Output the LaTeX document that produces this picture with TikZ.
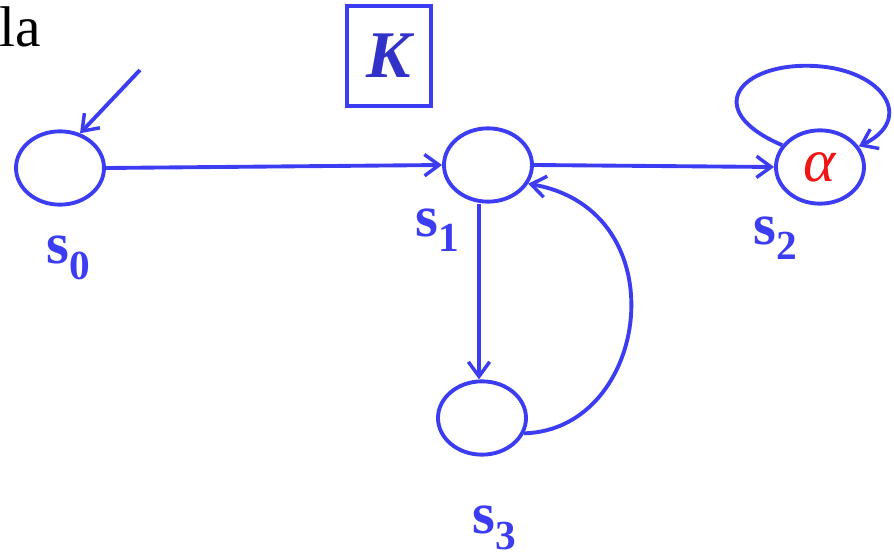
\documentclass[tikz,border=0pt]{standalone}
\usepackage{fontspec}
\setmainfont{Liberation Serif}
\usetikzlibrary{shapes.geometric,arrows.meta}
\definecolor{lineblue}{RGB}{60,60,242}
\definecolor{kblue}{RGB}{50,50,200}
\definecolor{alphared}{RGB}{240,20,20}
\tikzset{
  state/.style={ellipse,draw=lineblue,line width=2.9pt,minimum width=66pt,minimum height=55pt,inner sep=0pt},
  edge/.style={draw=lineblue,line width=2.9pt,-{Straight Barb[length=11pt,width=16pt,line width=2.6pt]}},
  slabel/.style={text=lineblue,inner sep=0pt,font=\fontsize{44}{50}\selectfont\bfseries}
}
\newcommand{\sub}[1]{\raisebox{-0.26em}{\fontsize{31}{34}\selectfont\bfseries #1}}
\begin{document}
\begin{tikzpicture}[x=0.75pt,y=-0.75pt]
\useasboundingbox (0,0) rectangle (894,560);
% partial text top left
\node[anchor=base west,inner sep=0pt,font=\fontsize{43}{48}\selectfont] (frag) at (-1,47) {la};
% K box
\node[draw=lineblue,line width=2.6pt,minimum width=63pt,minimum height=75pt,inner sep=0pt,
      text=kblue,font=\fontsize{50}{56}\selectfont\bfseries\itshape] (K) at (389,56) {K};
% states
\node[state] (s0) at (60,168) {};
\node[state] (s1) at (488,165) {};
\node[state] (s2) at (820,167) {\textcolor{alphared}{\fontsize{46}{48}\selectfont\itshape α}};
\node[state] (s3) at (482,418) {};
% labels
\node[slabel] (l0) at (68,258) {s\sub{0}};
\node[slabel] (l1) at (437,230) {s\sub{1}};
\node[slabel] (l2) at (775,238) {s\sub{2}};
\node[slabel] (l3) at (494,528) {s\sub{3}};
% initial arrow
\coordinate (init) at (140,70);
\draw[edge] (init) -- (s0.60);
% edges
\draw[edge] (s0.east) -- (s1.west);
\draw[edge] (s1.east) -- (s2.west);
\draw[edge] (s1.south) ++(-9,0) coordinate (s1b) (s1b) -- (s1b |- s3.north);
\draw[edge] (s3.-20) .. controls (650,430) and (680,210) .. (s1.-25);
\draw[edge] (s2.150) .. controls (700,110) and (740,62) .. (815,66)
   .. controls (885,70) and (915,120) .. (s2.28);
\end{tikzpicture}
\end{document}
